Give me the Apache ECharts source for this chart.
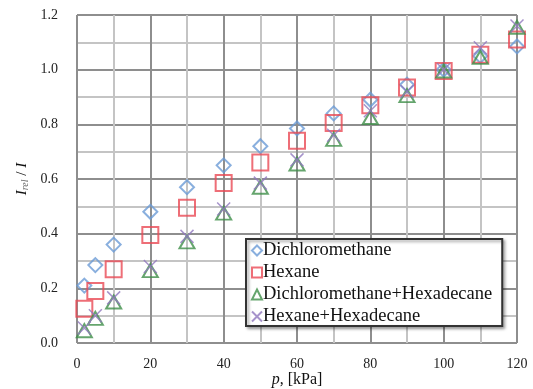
<!DOCTYPE html>
<html>
<head>
<meta charset="utf-8">
<script src="https://cdn.jsdelivr.net/npm/echarts@6/dist/echarts.min.js"></script>
<style>
html, body { margin: 0; padding: 0; background: #fff; }
#container { width: 533px; height: 389px; }
</style>
</head>
<body>
<div id="container"></div>
<script>
var pressure = [2, 5, 10, 20, 30, 40, 50, 60, 70, 80, 90, 100, 110, 120];
var dichloromethane = [0.21, 0.285, 0.36, 0.48, 0.57, 0.65, 0.72, 0.785, 0.84, 0.89, 0.945, 1.0, 1.05, 1.085];
var hexane = [0.125, 0.19, 0.27, 0.395, 0.495, 0.585, 0.66, 0.74, 0.805, 0.87, 0.935, 0.995, 1.055, 1.11];
var dcmHexadecane = [0.045, 0.09, 0.15, 0.265, 0.37, 0.475, 0.57, 0.655, 0.745, 0.825, 0.905, 0.995, 1.045, 1.155];
var hexHexadecane = [0.055, 0.1, 0.165, 0.28, 0.39, 0.49, 0.585, 0.67, 0.76, 0.85, 0.92, 1.0, 1.08, 1.16];
var seriesNames = ['Dichloromethane', 'Hexane', 'Dichloromethane+Hexadecane', 'Hexane+Hexadecane'];

function pairs(ys) {
	var arr = [];
	for (var i = 0; i < pressure.length; ++i)
		arr[i] = [pressure[i], ys[i]];
	return arr;
}

var serif = 'Liberation Serif';
var crossPath = 'path://M0,0L10,10M10,0L0,10';

var myChart = echarts.init(document.getElementById('container'));
var option = {
	animation: false,
	backgroundColor: '#fff',
	grid: { left: 77, right: 16, top: 15, bottom: 46, containLabel: false, outerBoundsMode: 'none' },
	legend: {
		orient: 'vertical',
		left: 246, top: 239,
		padding: [2, 10, 0, 5],
		itemGap: 3,
		itemWidth: 10, itemHeight: 10,
		borderColor: '#333', borderWidth: 2,
		backgroundColor: '#fff',
		shadowColor: 'rgba(0,0,0,0.35)', shadowBlur: 3, shadowOffsetX: 2, shadowOffsetY: 2,
		textStyle: { fontFamily: serif, fontSize: 18.5, color: '#111', padding: [0, 0, 0, -4] },
		data: seriesNames
	},
	xAxis: {
		type: 'value', min: 0, max: 120, interval: 20,
		name: '{i|p}, [kPa]', nameLocation: 'middle', nameGap: 29, nameMoveOverlap: false,
		nameTextStyle: { fontFamily: serif, fontSize: 16, color: '#111',
			rich: { i: { fontFamily: serif, fontStyle: 'italic', fontSize: 16, color: '#111' } } },
		axisLine: { show: false },
		axisTick: { show: false },
		axisLabel: { fontFamily: serif, fontSize: 14, color: '#222', margin: 14 },
		splitLine: { lineStyle: { color: '#8e8e8e', width: 2 } },
		minorTick: { show: false, splitNumber: 2 },
		minorSplitLine: { show: true, lineStyle: { color: '#c4c4c4', width: 2 } }
	},
	yAxis: {
		type: 'value', min: 0, max: 1.2, interval: 0.2,
		name: '{i|I}{s|rel} / {i|I}', nameLocation: 'middle', nameGap: 47, nameMoveOverlap: false,
		nameTextStyle: { fontFamily: serif, fontSize: 15, color: '#111',
			rich: {
				i: { fontFamily: serif, fontStyle: 'italic', fontSize: 15, color: '#111' },
				s: { fontFamily: serif, fontStyle: 'italic', fontSize: 10, color: '#666', verticalAlign: 'bottom', padding: [6, 0, 0, 0] }
			} },
		axisLine: { show: false },
		axisTick: { show: false },
		axisLabel: { fontFamily: serif, fontSize: 14, color: '#222', margin: 19,
			formatter: function (v) { return v.toFixed(1); } },
		splitLine: { lineStyle: { color: '#8e8e8e', width: 2 } },
		minorTick: { show: false, splitNumber: 2 },
		minorSplitLine: { show: true, lineStyle: { color: '#c4c4c4', width: 2 } }
	},
	series: [
		{
			name: seriesNames[0], type: 'scatter', symbol: 'diamond', symbolSize: 14,
			itemStyle: { color: 'rgba(0,0,0,0)', borderColor: '#6b9bd6', borderWidth: 2 },
			data: pairs(dichloromethane)
		},
		{
			name: seriesNames[1], type: 'scatter', symbol: 'rect', symbolSize: 16,
			itemStyle: { color: 'rgba(0,0,0,0)', borderColor: '#ea4a55', borderWidth: 2 },
			data: pairs(hexane)
		},
		{
			name: seriesNames[2], type: 'scatter', symbol: 'triangle', symbolSize: [15, 13],
			itemStyle: { color: 'rgba(0,0,0,0)', borderColor: '#3f8e48', borderWidth: 2 },
			data: pairs(dcmHexadecane)
		},
		{
			name: seriesNames[3], type: 'scatter', symbol: crossPath, symbolSize: 13,
			itemStyle: { color: 'rgba(0,0,0,0)', borderColor: '#9078be', borderWidth: 1.5 },
			data: pairs(hexHexadecane)
		}
	]
};
myChart.setOption(option);
</script>
</body>
</html>
